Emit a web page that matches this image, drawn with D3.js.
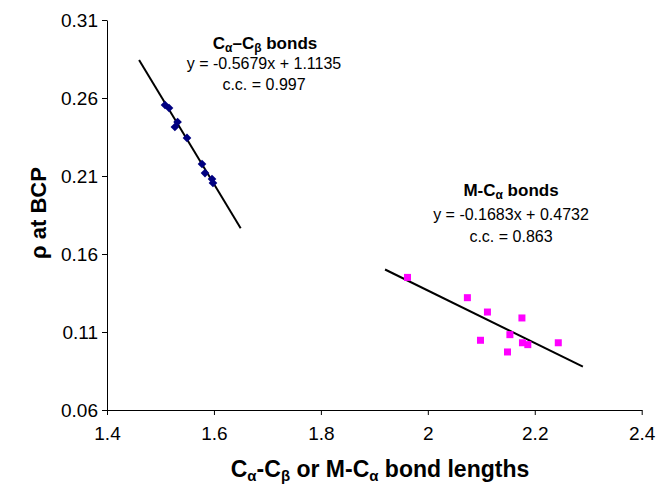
<!DOCTYPE html>
<html><head><meta charset="utf-8">
<script src="https://cdn.jsdelivr.net/npm/d3@7/dist/d3.min.js"></script>
<style>body{margin:0;background:#fff}svg{display:block;font-family:"Liberation Sans",Arial,sans-serif}</style>
</head><body><svg id="c" width="660" height="487"></svg>
<script>
const xTicks = [1.4, 1.6, 1.8, 2.0, 2.2, 2.4];
const yTicks = [0.06, 0.11, 0.16, 0.21, 0.26, 0.31];
const cacbX = [1.5085, 1.516, 1.532, 1.527, 1.5496, 1.5777, 1.5833, 1.5964, 1.5982];
const cacbY = [0.2555, 0.2536, 0.2446, 0.2414, 0.2344, 0.2177, 0.2119, 0.2081, 0.2055];
const mcaX = [1.962, 2.074, 2.1115, 2.176, 2.1535, 2.0985, 2.177, 2.187, 2.244, 2.149];
const mcaY = [0.145, 0.132, 0.1228, 0.119, 0.1083, 0.1047, 0.1031, 0.1019, 0.1031, 0.0972];
const fit1 = {slope: -0.5679, intercept: 1.1135, from: 1.46, to: 1.65};
const fit2 = {slope: -0.1683, intercept: 0.4732, from: 1.92, to: 2.29};

const svg = d3.select("#c");
const x = d3.scaleLinear().domain([1.4, 2.4]).range([107, 641.7]);
const y = d3.scaleLinear().domain([0.06, 0.31]).range([410, 20]);

const xa = svg.append("g").attr("transform","translate(0,410)")
  .call(d3.axisBottom(x).tickValues(xTicks).tickSize(5).tickSizeOuter(0).tickPadding(12)
    .tickFormat(d => d3.format("")(+d.toFixed(1))));
const ya = svg.append("g").attr("transform","translate(107,0)")
  .call(d3.axisLeft(y).tickValues(yTicks).tickSize(5).tickSizeOuter(0).tickPadding(4)
    .tickFormat(d3.format(".2f")));
[xa, ya].forEach(g => {
  g.selectAll("path,line").attr("stroke","#000").attr("stroke-width",1);
  g.selectAll("text").attr("font-size",19).attr("fill","#000")
   .attr("font-family","'Liberation Sans',Arial,sans-serif");
});

function fitLine(f){
  return [[x(f.from), y(f.slope*f.from+f.intercept)], [x(f.to), y(f.slope*f.to+f.intercept)]];
}
const line = d3.line();
svg.append("path").attr("d", line(fitLine(fit1))).attr("stroke","#000").attr("stroke-width",2).attr("fill","none");
svg.append("path").attr("d", line(fitLine(fit2))).attr("stroke","#000").attr("stroke-width",2).attr("fill","none");

const diamond = d3.symbol().type(d3.symbolDiamond2).size(48);
svg.append("g").selectAll("path").data(cacbX.map((v,i)=>[v,cacbY[i]])).join("path")
  .attr("d", diamond).attr("fill","#000080")
  .attr("transform", d => `translate(${x(d[0])},${y(d[1])})`);
svg.append("g").selectAll("rect").data(mcaX.map((v,i)=>[v,mcaY[i]])).join("rect")
  .attr("x", d => x(d[0])-3.5).attr("y", d => y(d[1])-3.5).attr("width",7).attr("height",7)
  .attr("fill","#ff00ff");

function rich(sel, parts){
  parts.forEach(p => {
    if (p.sub) sel.append("tspan").text(p.t).attr("font-size", p.fs).attr("baseline-shift","-25%");
    else sel.append("tspan").text(p.t);
  });
}
// annotation block 1
const a1 = svg.append("g").attr("text-anchor","middle").attr("fill","#000");
rich(a1.append("text").attr("x",265).attr("y",49).attr("font-size",17).attr("font-weight","bold"),
  [{t:"C"},{t:"α",sub:1,fs:12},{t:"–C"},{t:"β",sub:1,fs:12},{t:" bonds"}]);
a1.append("text").attr("x",264).attr("y",69).attr("font-size",16).text("y = -0.5679x + 1.1135");
a1.append("text").attr("x",264).attr("y",90).attr("font-size",16).text("c.c. = 0.997");
// annotation block 2
const a2 = svg.append("g").attr("text-anchor","middle").attr("fill","#000");
rich(a2.append("text").attr("x",511).attr("y",196).attr("font-size",17).attr("font-weight","bold"),
  [{t:"M-C"},{t:"α",sub:1,fs:12},{t:" bonds"}]);
a2.append("text").attr("x",511).attr("y",220).attr("font-size",16).text("y = -0.1683x + 0.4732");
a2.append("text").attr("x",511).attr("y",242).attr("font-size",16).text("c.c. = 0.863");

// axis titles
rich(svg.append("text").attr("x",380).attr("y",477).attr("text-anchor","middle")
  .attr("font-size",23).attr("font-weight","bold"),
  [{t:"C"},{t:"α",sub:1,fs:15},{t:"-C"},{t:"β",sub:1,fs:15},{t:" or M-C"},{t:"α",sub:1,fs:15},{t:" bond lengths"}]);
svg.append("text").attr("transform","translate(46,213) rotate(-90)").attr("text-anchor","middle")
  .attr("font-size",22).attr("font-weight","bold").text("ρ at BCP");
</script></body></html>
